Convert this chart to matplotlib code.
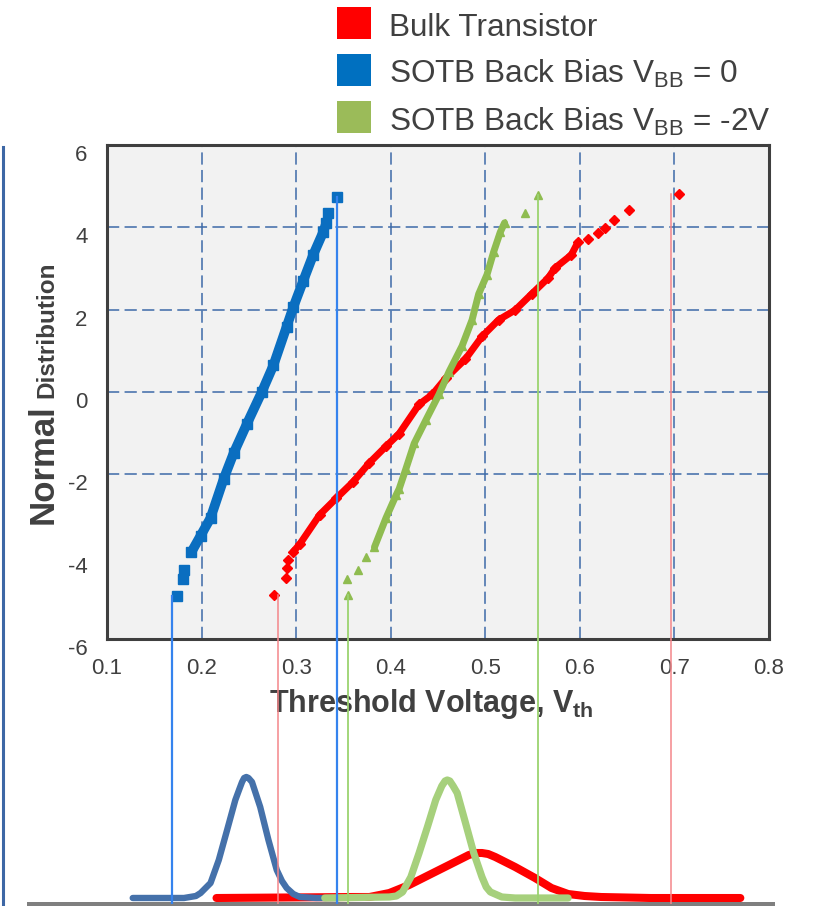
import matplotlib
matplotlib.use("Agg")
import matplotlib.pyplot as plt
from matplotlib.patches import Rectangle
from matplotlib.lines import Line2D
from matplotlib.transforms import ScaledTranslation

plt.rcParams['font.family'] = ['Liberation Sans', 'DejaVu Sans']
plt.rcParams['mathtext.fontset'] = 'custom'
plt.rcParams['mathtext.rm'] = 'Liberation Sans'
plt.rcParams['mathtext.it'] = 'Liberation Sans:italic'
plt.rcParams['mathtext.bf'] = 'Liberation Sans:bold'

# ---------------- data ----------------
series_labels = ['Bulk Transistor',
                 r'SOTB Back Bias V$_{\mathregular{BB}}$ = 0',
                 r'SOTB Back Bias V$_{\mathregular{BB}}$ = -2V']

# normal-probability plot points: threshold voltage (V) vs normal quantile
bulk_vth = [0.2767, 0.2893, 0.2900, 0.2917, 0.2970, 0.3040, 0.3250, 0.3425, 0.3600, 0.3775,
            0.3950, 0.4090, 0.4300, 0.4440, 0.4580, 0.4790, 0.4966, 0.5140, 0.5316, 0.5490,
            0.5666, 0.5736, 0.5910, 0.5980, 0.6086, 0.6190, 0.6270, 0.6366, 0.6520, 0.7050]
bulk_z = [-4.93, -4.52, -4.28, -4.08, -3.88, -3.69, -2.98, -2.58, -2.19, -1.72,
          -1.32, -1.01, -0.30, -0.06, 0.33, 0.80, 1.35, 1.75, 1.99, 2.38,
          2.77, 3.01, 3.33, 3.64, 3.72, 3.86, 3.99, 4.18, 4.43, 4.82]

sotb0_vth = [0.1737, 0.1808, 0.1814, 0.1892, 0.1990, 0.2095, 0.2234, 0.2340, 0.2480, 0.2637,
             0.2760, 0.2900, 0.2970, 0.3075, 0.3180, 0.3285, 0.3320, 0.3338, 0.3432]
sotb0_z = [-4.96, -4.55, -4.32, -3.89, -3.49, -3.06, -2.11, -1.48, -0.77, 0.00,
           0.65, 1.59, 2.06, 2.70, 3.33, 3.88, 4.11, 4.35, 4.74]

sotb2_vth = [0.3547, 0.3537, 0.3652, 0.3740, 0.3828, 0.3950, 0.4056, 0.4090, 0.4160, 0.4248,
             0.4370, 0.4510, 0.4616, 0.4755, 0.4860, 0.4930, 0.5018, 0.5088, 0.5158, 0.5204,
             0.5421, 0.5561]
sotb2_z = [-4.93, -4.54, -4.32, -4.00, -3.77, -3.06, -2.51, -2.35, -1.87, -1.25,
           -0.69, -0.06, 0.49, 1.12, 1.75, 2.38, 2.85, 3.40, 3.88, 4.11,
           4.35, 4.78]

# vertical guide lines (V) from the extreme points down to the distributions
guide_lo_vth = [0.2809, 0.1685, 0.3547]
guide_hi_vth = [0.6969, 0.3432, 0.5561]

# distribution curves (relative density) in the lower panel
bulk_pdf_vth = [0.2158, 0.3600, 0.3775, 0.3985, 0.4195, 0.4405, 0.4616, 0.4826, 0.4900, 0.4965,
                0.5030, 0.5106, 0.5316, 0.5526, 0.5700, 0.5876, 0.6050, 0.6226, 0.6751, 0.7697]
bulk_pdf = [0.00, 0.01, 0.01, 0.05, 0.13, 0.23, 0.33, 0.43, 0.45, 0.45,
            0.44, 0.41, 0.31, 0.20, 0.10, 0.04, 0.02, 0.01, 0.00, 0.00]

sotb0_pdf_vth = [0.1272, 0.1814, 0.1940, 0.1990, 0.2095, 0.2182, 0.2270, 0.2357, 0.2400, 0.2428,
                 0.2450, 0.2473, 0.2496, 0.2533, 0.2620, 0.2707, 0.2795, 0.2850, 0.2900, 0.2970,
                 0.3040, 0.3215, 0.3450]
sotb0_pdf = [0.00, 0.00, 0.02, 0.05, 0.15, 0.38, 0.68, 0.98, 1.09, 1.16,
             1.20, 1.21, 1.20, 1.16, 0.91, 0.58, 0.28, 0.17, 0.10, 0.04,
             0.01, 0.00, 0.00]

sotb2_pdf_vth = [0.3303, 0.3985, 0.4060, 0.4125, 0.4213, 0.4300, 0.4388, 0.4476, 0.4540, 0.4575,
                 0.4598, 0.4625, 0.4660, 0.4703, 0.4791, 0.4878, 0.4965, 0.5010, 0.5054, 0.5175,
                 0.5316, 0.5876]
sotb2_pdf = [0.00, 0.01, 0.02, 0.06, 0.21, 0.45, 0.71, 0.98, 1.12, 1.17,
             1.18, 1.17, 1.12, 1.05, 0.75, 0.45, 0.21, 0.11, 0.06, 0.01,
             0.00, 0.00]

x_ticks = [0.1, 0.2, 0.3, 0.4, 0.5, 0.6, 0.7, 0.8]
x_ticklabels = ['0.1', '0.2', '0.3', '0.4', '0.5', '0.6', '0.7', '0.8']
y_ticks = [-6, -4, -2, 0, 2, 4, 6]
y_ticklabels = ['-6', '-4', '-2', '0', '2', '4', '6']
grid_x = [0.2, 0.3, 0.4, 0.5, 0.6, 0.7]
grid_y = [-2, 0, 2, 4]

# ---------------- styling ----------------
W, H = 813, 906
fig = plt.figure(figsize=(W / 100, H / 100), dpi=100)


def rect(l, t, r, b):
    return [l / W, 1 - b / H, (r - l) / W, (b - t) / H]


TXT = '#404040'
point_colors = ['#ff0000', '#0a6ec0', '#8fbc50']
legend_colors = ['#ff0000', '#0070c0', '#9bbb59']
pdf_colors = ['#ff0000', '#4571aa', '#a6d07c']
guide_colors = ['#f4868a', '#3583ee', '#9bd36f']
guide_lw = [1.1, 1.6, 1.3]
markers = ['D', 's', '^']
marker_sizes = [5.0, 6.5, 6.0]
band_lw = [5.0, 7.0, 5.0]
dense = [(4, 24), (3, 17), (4, 20)]

ax = fig.add_axes(rect(107, 145, 769, 639))
ax.set_facecolor('#f2f2f2')
ax.set_xlim(0.1, 0.8)
ax.set_ylim(-6, 6)
for s in ax.spines.values():
    s.set_color('#3f3f3f')
    s.set_linewidth(2.2)
ax.tick_params(length=0, labelsize=16, labelcolor=TXT, pad=14)
ax.set_xticks(x_ticks)
ax.set_xticklabels(x_ticklabels)
ax.set_yticks(y_ticks)
ax.set_yticklabels(y_ticklabels)
ax.tick_params(axis='y', pad=14)
offset = ScaledTranslation(0, -8 / 100, fig.dpi_scale_trans)
for lab in ax.get_yticklabels():
    lab.set_transform(lab.get_transform() + offset)

for gx in grid_x:
    ax.axvline(gx, color='#3d6aa8', lw=1.1, ls=(0, (8, 3.5)), zorder=1)
for gy in grid_y:
    ax.axhline(gy, color='#3d6aa8', lw=1.1, ls=(0, (8, 3.5)), zorder=1)

all_vth = [bulk_vth, sotb0_vth, sotb2_vth]
all_z = [bulk_z, sotb0_z, sotb2_z]
for i in range(3):
    v, z = all_vth[i], all_z[i]
    a, b = dense[i]
    ax.plot(v[a:b], z[a:b], color=point_colors[i], lw=band_lw[i],
            solid_capstyle='round', solid_joinstyle='round', zorder=3)
    ax.plot(v, z, ls='none', marker=markers[i], ms=marker_sizes[i],
            color=point_colors[i], mec=point_colors[i], zorder=3)

# guides in the upper axes (from extreme point down to the frame)
for i in range(3):
    ax.plot([guide_lo_vth[i]] * 2, [min(all_z[i]), -6], color=guide_colors[i],
            lw=guide_lw[i], clip_on=False, zorder=4)
    ax.plot([guide_hi_vth[i]] * 2, [max(all_z[i]), -6], color=guide_colors[i],
            lw=guide_lw[i], clip_on=False, zorder=4)

ax.set_xlabel(r'Threshold Voltage, V$_{\mathbf{th}}$', fontsize=22,
              fontweight='bold', color=TXT)
ax.xaxis.set_label_coords(0.49, -0.098)

# y label with two sizes
fig.text(53 / W, 1 - 524 / H, 'Normal', rotation=90, rotation_mode='anchor',
         ha='left', va='baseline', fontsize=25, fontweight='bold', color=TXT)
fig.text(53 / W, 1 - 398 / H, 'Distribution', rotation=90, rotation_mode='anchor',
         ha='left', va='baseline', fontsize=17.5, fontweight='bold', color=TXT)

# lower panel with distributions
axl = fig.add_axes(rect(29, 639, 772, 903.5))
axl.patch.set_alpha(0)
left_v = 0.1 - (107 - 29) * 0.7 / (769 - 107)
right_v = 0.8 + (772 - 769) * 0.7 / (769 - 107)
axl.set_xlim(left_v, right_v)
axl.set_ylim(-0.055, 2.59)
axl.set_xticks([])
axl.set_yticks([])
for k in ['left', 'right', 'top']:
    axl.spines[k].set_visible(False)
axl.spines['bottom'].set_color('#7f7f7f')
axl.spines['bottom'].set_linewidth(3.6)

pdf_v = [bulk_pdf_vth, sotb0_pdf_vth, sotb2_pdf_vth]
pdf_y = [bulk_pdf, sotb0_pdf, sotb2_pdf]
pdf_lw = [5.8, 4.6, 5.2]
for i in [0, 1, 2]:
    axl.plot(pdf_v[i], pdf_y[i], color=pdf_colors[i], lw=pdf_lw[i],
             solid_capstyle='round', solid_joinstyle='round', zorder=2 + i, clip_on=False)
for i in range(3):
    axl.axvline(guide_lo_vth[i], color=guide_colors[i], lw=guide_lw[i], zorder=6)
    axl.axvline(guide_hi_vth[i], color=guide_colors[i], lw=guide_lw[i], zorder=6)

# legend (manual, top)
box_tops = [7, 54, 101]
baselines = [36, 83.3, 130.7]
for i in range(3):
    fig.add_artist(Rectangle((337 / W, 1 - (box_tops[i] + 31.5) / H), 34 / W, 31.5 / H,
                             transform=fig.transFigure, color=legend_colors[i], lw=0))
    fig.text(389 / W, 1 - baselines[i] / H, series_labels[i], fontsize=22.7,
             color=TXT, ha='left', va='baseline')

# left decorative rule
fig.add_artist(Line2D([2.5 / W, 2.5 / W], [1 - 147 / H, 0], transform=fig.transFigure,
                      color='#3d67a5', lw=2.2))

fig.savefig('out.png', dpi=100)
